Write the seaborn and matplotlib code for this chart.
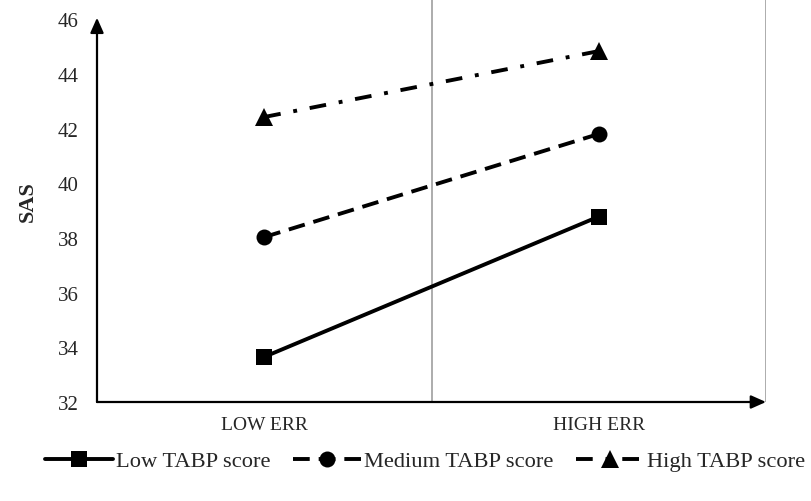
import pandas as pd
import matplotlib.pyplot as plt
import seaborn as sns

# values
err_levels = ["LOW ERR", "HIGH ERR"]
low_tabp = [33.65, 38.78]
medium_tabp = [38.03, 41.8]
high_tabp = [42.42, 44.83]
series_names = ["Low TABP score", "Medium TABP score", "High TABP score"]

data = pd.DataFrame({
    "err": err_levels * 3,
    "sas": low_tabp + medium_tabp + high_tabp,
    "group": [series_names[0]] * 2 + [series_names[1]] * 2 + [series_names[2]] * 2,
})

sns.set_style("white")
plt.rcParams['font.family'] = ['Liberation Serif', 'DejaVu Serif']

fig = plt.figure(figsize=(8.11, 5.02), dpi=100)
ax = fig.add_axes([97 / 811, 1 - 403 / 502, (766 - 97) / 811, 403 / 502])

sns.lineplot(
    data=data, x="err", y="sas", hue="group", style="group",
    palette=["black"] * 3,
    markers={series_names[0]: "s", series_names[1]: "o", series_names[2]: "^"},
    dashes={series_names[0]: "", series_names[1]: (4.3, 2.3), series_names[2]: (4.3, 3.3, 1.0, 3.3)},
    linewidth=2.8, markersize=11.5, markeredgewidth=0, ax=ax, sort=False,
)
# triangles look smaller at the same size, bump them a little
for ln in ax.get_lines():
    if ln.get_marker() == "^":
        ln.set_markersize(13)

ax.set_xlim(-0.5, 1.5)
ax.set_ylim(32, 32 + 403 / 27.35)
ax.set_yticks(range(32, 47, 2))
ax.tick_params(axis="y", labelsize=15, length=0, pad=13)
ax.tick_params(axis="x", labelsize=14, length=0, pad=10)
ax.set_xlabel("")
ax.set_ylabel("SAS", fontsize=16, fontweight="bold")
ax.yaxis.set_label_coords(-0.088, 0.5)

for s in ax.spines.values():
    s.set_visible(False)

# gray separators between categories
for xv in [0.5, 1.5]:
    ax.axvline(xv, color="#a6a6a6", linewidth=1.3, zorder=0)

# axis arrows
arrow = dict(arrowstyle="-|>,head_length=0.9,head_width=0.4", color="black", lw=1.6, shrinkA=0, shrinkB=0)
ax.annotate("", xy=(-0.5, 46.05), xytext=(-0.5, 32), xycoords="data", arrowprops=arrow, annotation_clip=False)
ax.annotate("", xy=(1.5, 32), xytext=(-0.5, 32), xycoords="data", arrowprops=arrow, annotation_clip=False)

ax.legend_.remove()
handles, labels = ax.get_legend_handles_labels()
for h in handles:
    if h.get_marker() == "^":
        h.set_markersize(13)
fig.legend(handles, labels, loc="center", bbox_to_anchor=(425 / 811, 1 - 462 / 502),
           ncol=3, frameon=False, fontsize=16.2, handlelength=3.0, handletextpad=0.15,
           columnspacing=1.0, borderpad=0)

fig.savefig("out.png", dpi=100)
